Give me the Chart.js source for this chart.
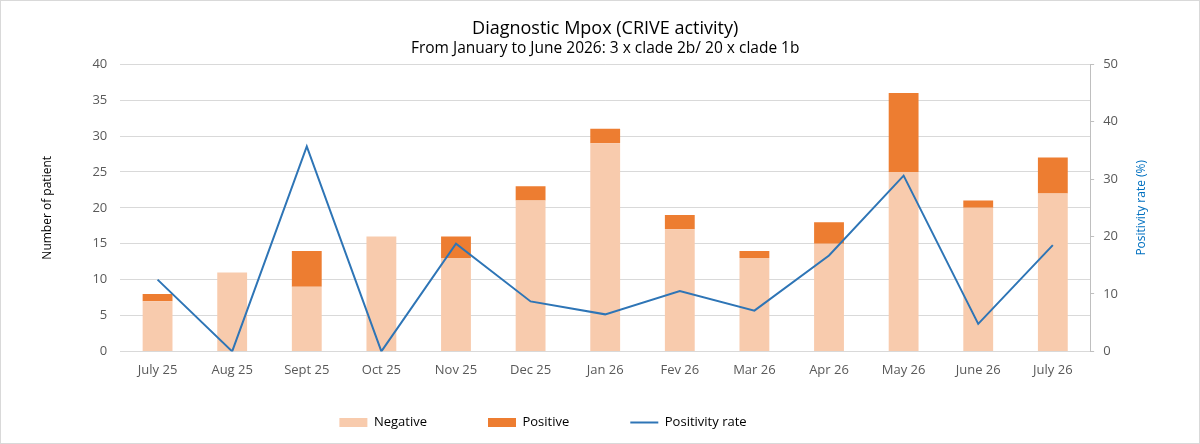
<!DOCTYPE html>
<html>
<head>
<meta charset="utf-8">
<script src="https://cdn.jsdelivr.net/npm/chart.js@4/dist/chart.umd.min.js"></script>
<style>
    html, body { margin: 0; padding: 0; background: #fff; }
    #wrap { position: absolute; left: 0; top: 0; width: 1198px; height: 442px; border: 1px solid #d9d9d9; }
</style>
</head>
<body>
<div id="wrap"><canvas id="mpoxChart"></canvas></div>
<script>
// Donnees
const mois = ['July 25', 'Aug 25', 'Sept 25', 'Oct 25', 'Nov 25', 'Dec 25', 'Jan 26', 'Fev 26', 'Mar 26', 'Apr 26', 'May 26', 'June 26', 'July 26'];
const negatifs = [7, 11, 9, 16, 13, 21, 29, 17, 13, 15, 25, 20, 22];
const positifs = [1, 0, 5, 0, 3, 2, 2, 2, 1, 3, 11, 1, 5];
const tauxPositivite = [12.5, 0, 35.7, 0, 18.75, 8.7, 6.45, 10.5, 7.1, 16.7, 30.6, 4.8, 18.5];

const titre = 'Diagnostic Mpox (CRIVE activity)';
const sousTitre = 'From January to June 2026: 3 x clade 2b/ 20 x clade 1b';
const titreAxeGauche = 'Number of patient';
const titreAxeDroit = 'Positivity rate (%)';

const police = "'Open Sans', 'Noto Sans', sans-serif";
const gris = '#595959';
const bleu = '#2E75B6';

// Legende compacte + decalage, et titre de l'axe droit lu de bas en haut
const ajustements = {
    id: 'ajustements',
    beforeUpdate(chart) {
        const leg = chart.legend;
        if (leg && !leg.fitOrigine) {
            leg.fitOrigine = leg.fit;
            leg.fit = function () {
                this.fitOrigine();
                this.height = 62;
            };
        }
    },
    afterLayout(chart) {
        const leg = chart.legend;
        leg.top = 354;
        leg.height = 442 - leg.top;
        leg.bottom = 442;
        leg.left -= 36;
        leg.right -= 36;
    },
    afterDraw(chart) {
        const ca = chart.chartArea;
        const ctx = chart.ctx;
        ctx.save();
        ctx.translate(1141, (ca.top + ca.bottom) / 2);
        ctx.rotate(-Math.PI / 2);
        ctx.textAlign = 'center';
        ctx.textBaseline = 'middle';
        ctx.fillStyle = '#0070C0';
        ctx.font = '12px ' + police;
        ctx.fillText(titreAxeDroit, 0, 0);
        ctx.restore();
    }
};

document.addEventListener('DOMContentLoaded', function () {
    const ctx = document.getElementById('mpoxChart').getContext('2d');
    new Chart(ctx, {
        data: {
            labels: mois,
            datasets: [
                {
                    type: 'line',
                    label: 'Positivity rate',
                    data: tauxPositivite,
                    yAxisID: 'y2',
                    borderColor: bleu,
                    backgroundColor: bleu,
                    borderWidth: 2,
                    pointRadius: 0,
                    tension: 0,
                    order: 0
                },
                {
                    type: 'bar',
                    label: 'Negative',
                    data: negatifs,
                    yAxisID: 'y',
                    backgroundColor: '#F8CBAD',
                    stack: 'patients',
                    barPercentage: 1,
                    categoryPercentage: 0.4,
                    order: 1
                },
                {
                    type: 'bar',
                    label: 'Positive',
                    data: positifs,
                    yAxisID: 'y',
                    backgroundColor: '#ED7D31',
                    stack: 'patients',
                    barPercentage: 1,
                    categoryPercentage: 0.4,
                    order: 1
                }
            ]
        },
        plugins: [ajustements],
        options: {
            responsive: true,
            maintainAspectRatio: false,
            animation: false,
            layout: { padding: { left: 30, right: 72, top: 10, bottom: 0 } },
            plugins: {
                title: {
                    display: true,
                    text: titre,
                    fullSize: false,
                    color: '#000',
                    font: { family: police, size: 18, weight: 'normal' },
                    padding: { top: 7, bottom: 0 }
                },
                subtitle: {
                    display: true,
                    text: sousTitre,
                    fullSize: false,
                    color: '#000',
                    font: { family: police, size: 15.5 },
                    padding: { top: 0, bottom: 6 }
                },
                legend: {
                    position: 'bottom',
                    labels: {
                        color: '#000',
                        font: { family: police, size: 13 },
                        usePointStyle: true,
                        pointStyleWidth: 28,
                        boxHeight: 9,
                        padding: 61,
                        sort: (a, b) => {
                            const ordre = ['Negative', 'Positive', 'Positivity rate'];
                            return ordre.indexOf(a.text) - ordre.indexOf(b.text);
                        },
                        generateLabels: function (chart) {
                            const items = Chart.defaults.plugins.legend.labels.generateLabels(chart);
                            items.forEach(item => {
                                const ds = chart.data.datasets[item.datasetIndex];
                                if (ds.type === 'line') {
                                    item.pointStyle = 'line';
                                    item.lineWidth = 2;
                                    item.strokeStyle = ds.borderColor;
                                } else {
                                    item.pointStyle = 'rect';
                                    item.lineWidth = 0;
                                }
                            });
                            return items;
                        }
                    }
                },
                tooltip: { enabled: false }
            },
            scales: {
                x: {
                    stacked: true,
                    grid: { display: false },
                    border: { color: '#d9d9d9' },
                    ticks: { color: gris, font: { family: police, size: 13 }, padding: 3 }
                },
                y: {
                    stacked: true,
                    position: 'left',
                    min: 0,
                    max: 40,
                    ticks: { stepSize: 5, color: gris, font: { family: police, size: 13 }, padding: 13 },
                    grid: { color: '#d9d9d9', drawTicks: false },
                    border: { display: false },
                    title: {
                        display: true,
                        text: titreAxeGauche,
                        color: '#000',
                        font: { family: police, size: 12 },
                        padding: { top: 9, bottom: 25 }
                    }
                },
                y2: {
                    position: 'right',
                    min: 0,
                    max: 50,
                    ticks: { stepSize: 10, color: gris, font: { family: police, size: 13 }, padding: 9 },
                    grid: { drawOnChartArea: false, tickLength: 4, color: '#bfbfbf' },
                    border: { color: '#bfbfbf' }
                }
            }
        }
    });
});
</script>
</body>
</html>
